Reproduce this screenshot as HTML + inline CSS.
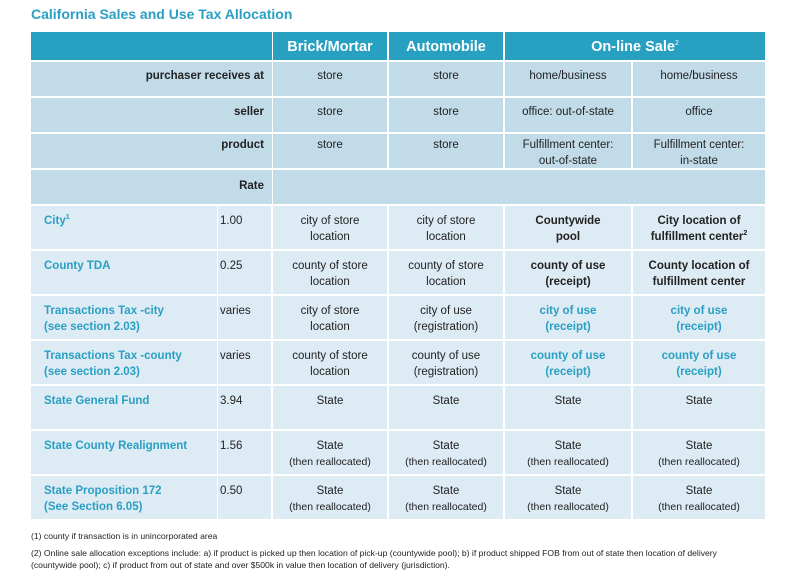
<!DOCTYPE html>
<html><head><meta charset="utf-8"><style>
body{margin:0;width:798px;height:586px;background:#fff;font-family:"Liberation Sans",sans-serif;position:relative;overflow:hidden}
.c{position:absolute;box-sizing:border-box;font-size:11.5px;color:#222;text-align:center;line-height:16px;padding-top:6px}
.h{background:#27a0c2;color:#fff;font-weight:bold;font-size:14.5px;padding-top:7px}
.m{background:#c2dbe8}
.b{background:#ddebf4;padding-top:7px}
.l{text-align:right;padding-right:8px;font-weight:bold}
.lab{text-align:left;padding-left:13px;color:#2a9fc4;font-weight:bold}
.r{text-align:left;padding-left:2px}
.bold{font-weight:bold}
.blue{color:#2a9fc4;font-weight:bold}
.fn{position:absolute;left:31px;font-size:8.6px;color:#222;line-height:12px}
sup{font-size:7px;line-height:0}
small{font-size:10.5px;line-height:13px}
</style></head><body>
<div style="position:absolute;left:31px;top:6px;font-size:14px;font-weight:bold;color:#2a9fc4">California Sales and Use Tax Allocation</div>

<div class="c h" style="left:31px;top:32px;width:241px;height:28px"></div>
<div class="c h" style="left:273px;top:32px;width:114px;height:28px">Brick/Mortar</div>
<div class="c h" style="left:389px;top:32px;width:114px;height:28px">Automobile</div>
<div class="c h" style="left:505px;top:32px;width:260px;height:28px">On-line Sale<sup style="font-weight:normal">2</sup></div>

<div class="c m l" style="left:31px;top:62px;width:241px;height:34px">purchaser receives at</div>
<div class="c m" style="left:273px;top:62px;width:114px;height:34px">store</div>
<div class="c m" style="left:389px;top:62px;width:114px;height:34px">store</div>
<div class="c m" style="left:505px;top:62px;width:126px;height:34px">home/business</div>
<div class="c m" style="left:633px;top:62px;width:132px;height:34px">home/business</div>

<div class="c m l" style="left:31px;top:98px;width:241px;height:34px">seller</div>
<div class="c m" style="left:273px;top:98px;width:114px;height:34px">store</div>
<div class="c m" style="left:389px;top:98px;width:114px;height:34px">store</div>
<div class="c m" style="left:505px;top:98px;width:126px;height:34px">office: out-of-state</div>
<div class="c m" style="left:633px;top:98px;width:132px;height:34px">office</div>

<div class="c m l" style="left:31px;top:134px;width:241px;height:34px;padding-top:3px">product</div>
<div class="c m" style="left:273px;top:134px;width:114px;height:34px;padding-top:3px">store</div>
<div class="c m" style="left:389px;top:134px;width:114px;height:34px;padding-top:3px">store</div>
<div class="c m" style="left:505px;top:134px;width:126px;height:34px;padding-top:3px">Fulfillment center:<br>out-of-state</div>
<div class="c m" style="left:633px;top:134px;width:132px;height:34px;padding-top:3px">Fulfillment center:<br>in-state</div>

<div class="c m l" style="left:31px;top:170px;width:241px;height:34px;padding-top:8px">Rate</div>
<div class="c m" style="left:273px;top:170px;width:492px;height:34px"></div>

<script>
var rowLabels=["City<sup>1</sup>","County TDA","Transactions Tax -city<br>(see section 2.03)","Transactions Tax -county<br>(see section 2.03)","State General Fund","State County Realignment","State Proposition 172<br>(See Section 6.05)"];
var rates=["1.00","0.25","varies","varies","3.94","1.56","0.50"];
var brick=["city of store<br>location","county of store<br>location","city of store<br>location","county of store<br>location","State","State<br><small>(then reallocated)</small>","State<br><small>(then reallocated)</small>"];
var auto=["city of store<br>location","county of store<br>location","city of use<br>(registration)","county of use<br>(registration)","State","State<br><small>(then reallocated)</small>","State<br><small>(then reallocated)</small>"];
var on1=["Countywide<br>pool","county of use<br>(receipt)","city of use<br>(receipt)","county of use<br>(receipt)","State","State<br><small>(then reallocated)</small>","State<br><small>(then reallocated)</small>"];
var on2=["City location of<br>fulfillment center<sup>2</sup>","County location of<br>fulfillment center","city of use<br>(receipt)","county of use<br>(receipt)","State","State<br><small>(then reallocated)</small>","State<br><small>(then reallocated)</small>"];
var styles1=["bold","bold","blue","blue","","",""];
var cols=[[31,186],[218,53],[273,114],[389,114],[505,126],[633,132]];
for(var i=0;i<rowLabels.length;i++){
  var rowY=206+i*45;
  var vals=[rowLabels[i],rates[i],brick[i],auto[i],on1[i],on2[i]];
  var cls=["lab","r","","",styles1[i],styles1[i]];
  for(var j=0;j<6;j++){
    var d=document.createElement('div');
    d.className='c b '+cls[j];
    
    
    d.style.left=cols[j][0]+'px';d.style.top=rowY+'px';d.style.width=cols[j][1]+'px';d.style.height='43px';
    d.innerHTML=vals[j];
    document.body.appendChild(d);
  }
}
</script>
<div class="fn" style="top:530px">(1) county if transaction is in unincorporated area</div>
<div class="fn" style="top:547px;width:760px">(2) Online sale allocation exceptions include: a) if product is picked up then location of pick-up (countywide pool); b) if product shipped FOB from out of state then location of delivery<br>(countywide pool); c) if product from out of state and over $500k in value then location of delivery (jurisdiction).</div>
</body></html>
